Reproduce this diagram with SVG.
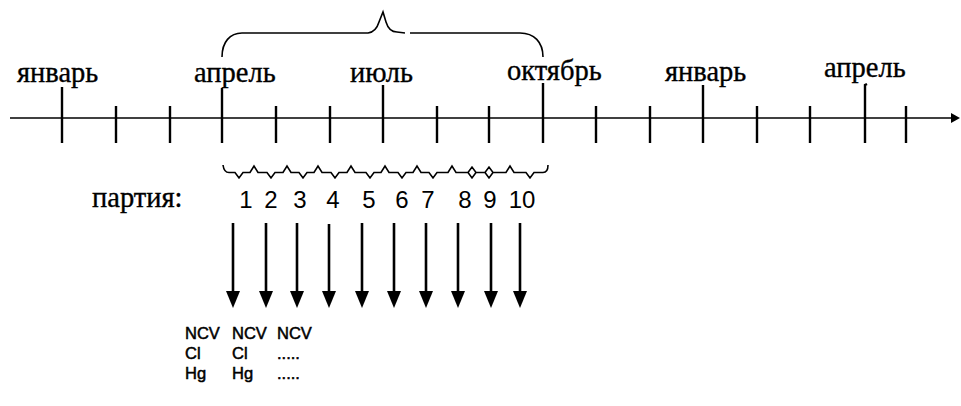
<svg xmlns="http://www.w3.org/2000/svg" width="961" height="406" viewBox="0 0 961 406">
<style>
.m{font-family:"Liberation Serif","Times New Roman",serif;font-size:28.5px;fill:#000;stroke:#000;stroke-width:0.35}
.n{font-family:"Liberation Sans",Arial,sans-serif;font-size:24px;fill:#000;text-anchor:middle}
.s{font-family:"Liberation Sans",Arial,sans-serif;font-size:16.5px;fill:#000;stroke:#000;stroke-width:0.5}
.ln{stroke:#000;fill:none;stroke-width:1.6}
.tk{stroke:#000;stroke-width:2.4}
.ar{stroke:#000;stroke-width:2.6}
</style>
<rect width="961" height="406" fill="#fff"/>
<g id="axis">
<line class="ln" x1="10" y1="118" x2="953" y2="118" stroke-width="1.9"/>
<polygon points="951,113 960,118 951,123" fill="#000"/>
</g>
<g id="ticks">
<line class="tk" x1="62" y1="87" x2="62" y2="143"/>
<line class="tk" x1="116" y1="106" x2="116" y2="143" stroke-width="1.8"/>
<line class="tk" x1="170" y1="106" x2="170" y2="143"/>
<line class="tk" x1="222" y1="88" x2="222" y2="143" stroke-width="1.8"/>
<line class="tk" x1="276" y1="106" x2="276" y2="143" stroke-width="3"/>
<line class="tk" x1="330" y1="106" x2="330" y2="143"/>
<line class="tk" x1="383" y1="85" x2="383" y2="143" stroke-width="3"/>
<line class="tk" x1="437" y1="106" x2="437" y2="143"/>
<line class="tk" x1="489" y1="106" x2="489" y2="143"/>
<line class="tk" x1="543" y1="83" x2="543" y2="143"/>
<line class="tk" x1="596" y1="106" x2="596" y2="143"/>
<line class="tk" x1="650" y1="106" x2="650" y2="143"/>
<line class="tk" x1="703" y1="85" x2="703" y2="143"/>
<line class="tk" x1="757" y1="106" x2="757" y2="143"/>
<line class="tk" x1="810" y1="106" x2="810" y2="143"/>
<path class="tk" fill="none" d="M865,143 L865,85 L867,84"/>
<line class="tk" x1="906" y1="106" x2="906" y2="143"/>
</g>
<g id="months">
<text class="m" x="17" y="82">январь</text>
<text class="m" x="194" y="82">апрель</text>
<text class="m" x="350" y="82">июль</text>
<text class="m" x="507" y="80">октябрь</text>
<text class="m" x="665" y="81">январь</text>
<text class="m" x="824" y="77">апрель</text>
</g>
<g id="season-brace">
<path class="ln" d="M222,57 C222,42 230,33 242,33 L368,33 Q376,32 379,22 L383,12 L386,22 Q389,32 397,32 L405,33 M410,33 L520,33 C534,33 543,42 543,57"/>
</g>
<g id="batch-brace">
<path class="ln" stroke-width="1.5" d="M223,165 Q224,172.5 229,172.5 L235,172.5 L239,178 L243,172.5 L250,172.5 L254,166 L258,172.5 L267,172.5 L271,178 L275,172.5 L283,172.5 L287,166 L291,172.5 L299,172.5 L303,178 L307,172.5 L314,172.5 L318,166 L322,172.5 L331,172.5 L335,178 L339,172.5 L347,172.5 L351,166 L355,172.5 L366,172.5 L370,178 L374,172.5 L381,172.5 L385,166 L389,172.5 L398,172.5 L402,178 L406,172.5 L413,172.5 L417,166 L421,172.5 L429,172.5 L433,178 L437,172.5 L448,172.5 L452,166 L456,172.5 L468,172.5 L472,167 L476,172.5 L485,172.5 L489,167 L493,172.5 L506,172.5 L510,166 L514,172.5 L526,172.5 L530,178 L534,172.5 L543,172.5 Q548,172.5 548,165 M468,172.5 L472,178 L476,172.5 M485,172.5 L489,178 L493,172.5"/>
</g>
<g id="batch-label">
<text class="m" x="92" y="207">партия:</text>
</g>
<g id="batch-numbers">
<text class="n" x="246" y="208">1</text>
<text class="n" x="271" y="208">2</text>
<text class="n" x="300" y="208">3</text>
<text class="n" x="333" y="208">4</text>
<text class="n" x="369" y="208">5</text>
<text class="n" x="402" y="208">6</text>
<text class="n" x="428" y="208">7</text>
<text class="n" x="465" y="208">8</text>
<text class="n" x="490" y="208">9</text>
<text class="n" x="522" y="208">10</text>
</g>
<g id="connectors">
<line class="ar" x1="233" y1="223" x2="233" y2="294"/><polygon points="226,291 240,291 233,308"/>
<line class="ar" x1="266" y1="223" x2="266" y2="294"/><polygon points="259,291 273,291 266,308"/>
<line class="ar" x1="297" y1="223" x2="297" y2="294"/><polygon points="290,291 304,291 297,308"/>
<line class="ar" x1="329" y1="224" x2="329" y2="294"/><polygon points="322,291 336,291 329,308"/>
<line class="ar" x1="362" y1="223" x2="362" y2="294"/><polygon points="355,291 369,291 362,308"/>
<line class="ar" x1="394" y1="223" x2="394" y2="294"/><polygon points="387,291 401,291 394,308"/>
<line class="ar" x1="426" y1="223" x2="426" y2="294"/><polygon points="419,291 433,291 426,308"/>
<line class="ar" x1="458" y1="223" x2="458" y2="294"/><polygon points="451,291 465,291 458,308"/>
<line class="ar" x1="491" y1="223" x2="491" y2="294"/><polygon points="484,291 498,291 491,308"/>
<line class="ar" x1="520" y1="223" x2="520" y2="294"/><polygon points="513,291 527,291 520,308"/>
</g>
<g id="results">
<text class="s" x="185" y="339">NCV</text>
<text class="s" x="232" y="339">NCV</text>
<text class="s" x="277" y="339">NCV</text>
<text class="s" x="185" y="359">Cl</text>
<text class="s" x="232" y="359">Cl</text>
<text class="s" x="277" y="359">.....</text>
<text class="s" x="185" y="379">Hg</text>
<text class="s" x="232" y="379">Hg</text>
<text class="s" x="277" y="379">.....</text>
</g>
</svg>
